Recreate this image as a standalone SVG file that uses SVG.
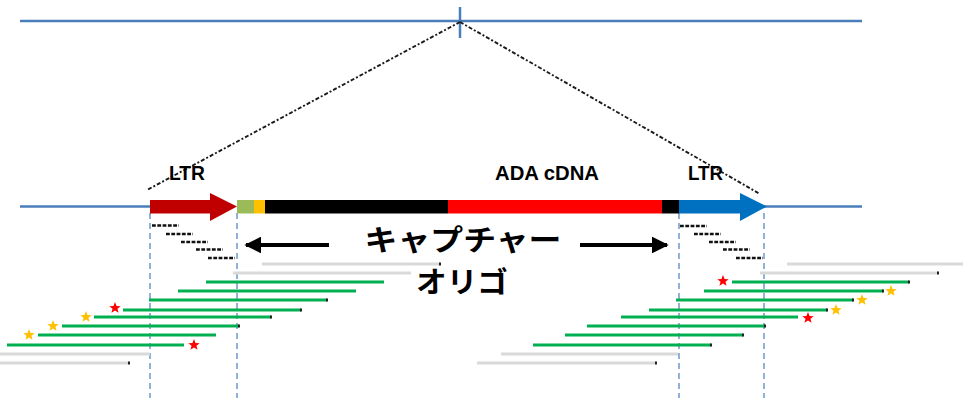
<svg xmlns="http://www.w3.org/2000/svg" xmlns:xlink="http://www.w3.org/1999/xlink" width="967" height="398" viewBox="0 0 967 398">
  <style>
    .chrom { stroke: #4a7ebb; stroke-width: 2.5; fill: none; }
    .zoom { stroke: #1a1a1a; stroke-width: 1.9; stroke-dasharray: 4 2 2 2; fill: none; }
    .guide { stroke: #4a7ebb; stroke-width: 1.2; stroke-dasharray: 6 4; fill: none; }
    .probe { stroke: #111; stroke-width: 2.5; stroke-dasharray: 3.8 1.5; fill: none; }
    .green { stroke: #00b050; stroke-width: 3; }
    .gray { stroke: #d9d9d9; stroke-width: 3; }
    .cap { fill: #222; }
    .lbl { font-family: "Liberation Sans", Arial, sans-serif; font-weight: bold; font-size: 20px; fill: #000; }
    .jp { font-family: "Noto Sans CJK JP", "Noto Sans", sans-serif; font-weight: bold; font-size: 29px; fill: #000; text-anchor: middle; }
    .red { fill: #ff0000; }
    .yel { fill: #ffc000; }
  </style>
  <defs>
    <path id="star" d="M0,-6 L1.53,-2.1 L5.71,-1.85 L2.47,0.8 L3.53,4.85 L0,2.6 L-3.53,4.85 L-2.47,0.8 L-5.71,-1.85 L-1.53,-2.1 Z"/>
    <marker id="head" viewBox="0 0 10 10" refX="9" refY="5" markerWidth="4.2" markerHeight="4.2" orient="auto-start-reverse" markerUnits="strokeWidth">
      <path d="M0,0 L10,5 L0,10 Z" fill="#000"/>
    </marker>
  </defs>

  <!-- genomic locus with insertion site -->
  <g id="chromosome-top">
    <line class="chrom" x1="20" y1="21" x2="862" y2="21"/>
    <line class="chrom" x1="460" y1="7" x2="460" y2="38"/>
  </g>

  <!-- connectors: zoom-in lines and LTR boundary guides -->
  <g id="connectors">
    <line class="zoom" x1="460" y1="22" x2="147" y2="190"/>
    <line class="zoom" x1="460" y1="22" x2="760" y2="194"/>
    <line class="guide" x1="150" y1="213" x2="150" y2="398"/>
    <line class="guide" x1="237" y1="213" x2="237" y2="398"/>
    <line class="guide" x1="679" y1="213" x2="679" y2="398"/>
    <line class="guide" x1="764" y1="213" x2="764" y2="398"/>
  </g>

  <!-- integrated provirus -->
  <g id="provirus">
    <line class="chrom" x1="20" y1="206.5" x2="150" y2="206.5"/>
    <line class="chrom" x1="764" y1="206.5" x2="862" y2="206.5"/>
    <rect x="150" y="200" width="62" height="13.5" fill="#c00000"/>
    <polygon points="210,193 237,206.5 210,221" fill="#c00000"/>
    <rect x="237" y="200" width="17" height="13.5" fill="#9bbb59"/>
    <rect x="254" y="200" width="11" height="13.5" fill="#ffc000"/>
    <rect x="265" y="200" width="183" height="13.5" fill="#000"/>
    <rect x="448" y="200" width="214" height="13.5" fill="#ff0000"/>
    <rect x="662" y="200" width="17" height="13.5" fill="#000"/>
    <rect x="679" y="200" width="63" height="13.5" fill="#0070c0"/>
    <polygon points="740,193 767,206.5 740,221" fill="#0070c0"/>
  </g>

  <g id="labels">
    <text class="lbl" x="169" y="180" textLength="36" lengthAdjust="spacingAndGlyphs">LTR</text>
    <text class="lbl" x="495" y="180" textLength="104" lengthAdjust="spacingAndGlyphs">ADA cDNA</text>
    <text class="lbl" x="688" y="180" textLength="35" lengthAdjust="spacingAndGlyphs">LTR</text>
  </g>

  <!-- capture oligo label with direction arrows -->
  <g id="capture-oligo">
    <line x1="329" y1="245" x2="246" y2="245" stroke="#000" stroke-width="4" marker-end="url(#head)"/>
    <line x1="580" y1="245" x2="667" y2="245" stroke="#000" stroke-width="4" marker-end="url(#head)"/>
    <text class="jp" x="463" y="251" textLength="197" lengthAdjust="spacingAndGlyphs">キャプチャー</text>
    <text class="jp" x="462" y="293" textLength="92" lengthAdjust="spacingAndGlyphs">オリゴ</text>
  </g>

  <!-- tiled capture probes over each LTR -->
  <g id="probes-left">
    <line class="probe" x1="152" y1="225.5" x2="179" y2="225.5"/>
    <line class="probe" x1="166" y1="234" x2="193" y2="234"/>
    <line class="probe" x1="181" y1="242" x2="208" y2="242"/>
    <line class="probe" x1="196" y1="249.5" x2="223" y2="249.5"/>
    <line class="probe" x1="208" y1="258" x2="235" y2="258"/>
  </g>
  <g id="probes-right">
    <line class="probe" x1="680" y1="226" x2="707" y2="226"/>
    <line class="probe" x1="694" y1="234" x2="721" y2="234"/>
    <line class="probe" x1="709" y1="242" x2="736" y2="242"/>
    <line class="probe" x1="723" y1="249.5" x2="750" y2="249.5"/>
    <line class="probe" x1="736" y1="258" x2="763" y2="258"/>
  </g>

  <!-- sequencing reads, left junction -->
  <g id="reads-left">
    <line class="gray" x1="262" y1="264" x2="440" y2="264"/>
    <rect class="cap" x="439" y="262.5" width="2" height="3"/>
    <line class="gray" x1="233" y1="273" x2="411" y2="273"/>
    <line class="green" x1="206" y1="282" x2="384" y2="282"/>
    <line class="green" x1="178" y1="291" x2="356" y2="291"/>
    <line class="green" x1="149" y1="300" x2="327" y2="300"/>
    <rect class="cap" x="326" y="298.5" width="2" height="3"/>
    <line class="green" x1="123" y1="310" x2="301" y2="310"/>
    <rect class="cap" x="300" y="308.5" width="2" height="3"/>
    <line class="green" x1="94" y1="317" x2="271" y2="317"/>
    <rect class="cap" x="270" y="315.5" width="2" height="3"/>
    <line class="green" x1="62" y1="326" x2="239" y2="326"/>
    <rect class="cap" x="238" y="324.5" width="2" height="3"/>
    <line class="green" x1="38" y1="335" x2="216" y2="335"/>
    <line class="green" x1="7" y1="345" x2="184" y2="345"/>
    <line class="gray" x1="0" y1="354" x2="150" y2="354"/>
    <line class="gray" x1="0" y1="363" x2="129" y2="363"/>
    <rect class="cap" x="128" y="361.5" width="2" height="3"/>
    <use href="#star" class="red" x="115" y="308"/>
    <use href="#star" class="yel" x="86" y="317"/>
    <use href="#star" class="yel" x="53" y="326"/>
    <use href="#star" class="yel" x="29" y="335"/>
    <use href="#star" class="red" x="194" y="345"/>
  </g>

  <!-- sequencing reads, right junction -->
  <g id="reads-right">
    <line class="gray" x1="787" y1="264" x2="963" y2="264"/>
    <line class="gray" x1="760" y1="273" x2="938" y2="273"/>
    <rect class="cap" x="937" y="271.5" width="2" height="3"/>
    <line class="green" x1="732" y1="282" x2="909" y2="282"/>
    <rect class="cap" x="908" y="280.5" width="2" height="3"/>
    <line class="green" x1="704" y1="291" x2="883" y2="291"/>
    <rect class="cap" x="882" y="289.5" width="2" height="3"/>
    <line class="green" x1="676" y1="300" x2="853" y2="300"/>
    <rect class="cap" x="852" y="298.5" width="2" height="3"/>
    <line class="green" x1="649" y1="310" x2="827" y2="310"/>
    <rect class="cap" x="826" y="308.5" width="2" height="3"/>
    <line class="green" x1="621" y1="317" x2="798" y2="317"/>
    <line class="green" x1="587" y1="326" x2="765" y2="326"/>
    <rect class="cap" x="764" y="324.5" width="2" height="3"/>
    <line class="green" x1="565" y1="335" x2="743" y2="335"/>
    <rect class="cap" x="742" y="333.5" width="2" height="3"/>
    <line class="green" x1="533" y1="345" x2="711" y2="345"/>
    <rect class="cap" x="710" y="343.5" width="2" height="3"/>
    <line class="gray" x1="501" y1="354" x2="678" y2="354"/>
    <line class="gray" x1="477" y1="363" x2="656" y2="363"/>
    <rect class="cap" x="655" y="361.5" width="2" height="3"/>
    <use href="#star" class="red" x="723" y="281"/>
    <use href="#star" class="yel" x="891" y="291"/>
    <use href="#star" class="yel" x="862" y="300"/>
    <use href="#star" class="yel" x="836" y="310"/>
    <use href="#star" class="red" x="808" y="318"/>
  </g>
</svg>
